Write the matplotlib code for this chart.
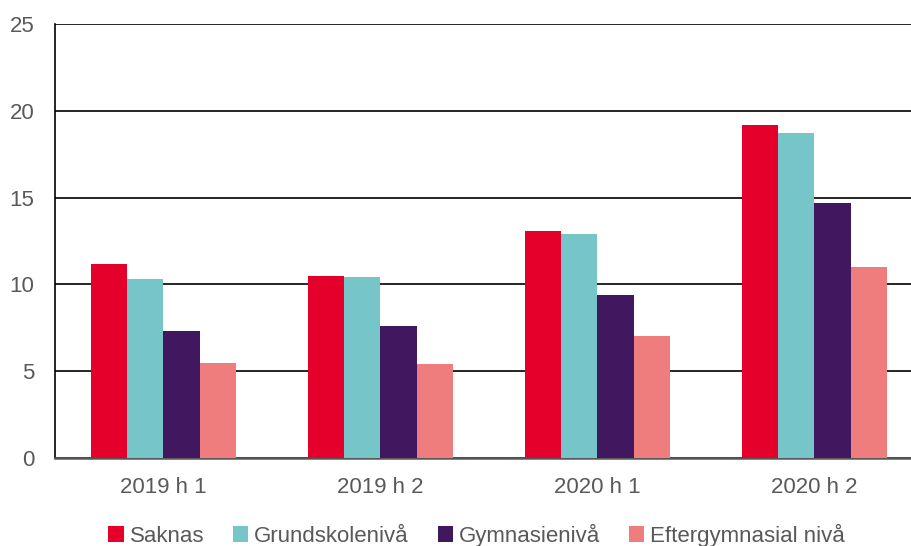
import numpy as np
import matplotlib
matplotlib.use("Agg")
from matplotlib import pyplot as plt
from matplotlib.patches import Patch

plt.rcParams['font.family'] = ['Liberation Sans', 'DejaVu Sans']

# data
kategorier = ['2019 h 1', '2019 h 2', '2020 h 1', '2020 h 2']
serier = ['Saknas', 'Grundskolenivå', 'Gymnasienivå', 'Eftergymnasial nivå']
saknas = [11.2, 10.5, 13.1, 19.2]
grundskola = [10.3, 10.4, 12.9, 18.7]
gymnasium = [7.3, 7.6, 9.4, 14.7]
eftergymnasial = [5.5, 5.4, 7.0, 11.0]
y_ticks = [0, 5, 10, 15, 20, 25]

farger = ['#E4002B', '#76C5C8', '#41175F', '#EF7D7D']
grå = '#595959'

fig = plt.figure(figsize=(9.12, 5.46), dpi=100)
ax = fig.add_axes([55 / 912, 1 - 458 / 546, (912 - 55) / 912, 434 / 546])

x = np.arange(len(kategorier))
w = 0.166
for i, (vals, c) in enumerate(zip([saknas, grundskola, gymnasium, eftergymnasial], farger)):
    ax.bar(x + (i - 1.5) * w, vals, w, color=c, zorder=3)

ax.set_ylim(0, 25)
ax.set_xlim(-0.5, 3.5 - 11 / 217)
ax.set_yticks(y_ticks)
ax.set_xticks(x)
ax.set_xticklabels(kategorier)
ax.yaxis.grid(True, color='black', linewidth=1.2, zorder=0)
ax.tick_params(axis='both', length=0, labelsize=16, colors=grå)
ax.tick_params(axis='x', pad=14)
ax.tick_params(axis='y', pad=15)

for s in ['top', 'right']:
    ax.spines[s].set_visible(False)
ax.spines['left'].set_color('black')
ax.spines['left'].set_linewidth(1.2)
ax.spines['bottom'].set_color(grå)
ax.spines['bottom'].set_linewidth(1.8)

handles = [Patch(facecolor=c, label=s) for c, s in zip(farger, serier)]
leg = fig.legend(handles=handles, loc='center', bbox_to_anchor=(0.5225, 1 - 535 / 546), ncol=4,
                 frameon=False, fontsize=16, handlelength=0.7, handleheight=0.7,
                 handletextpad=0.25, columnspacing=1.3)
for t in leg.get_texts():
    t.set_color(grå)

fig.savefig('out.png', dpi=100)
